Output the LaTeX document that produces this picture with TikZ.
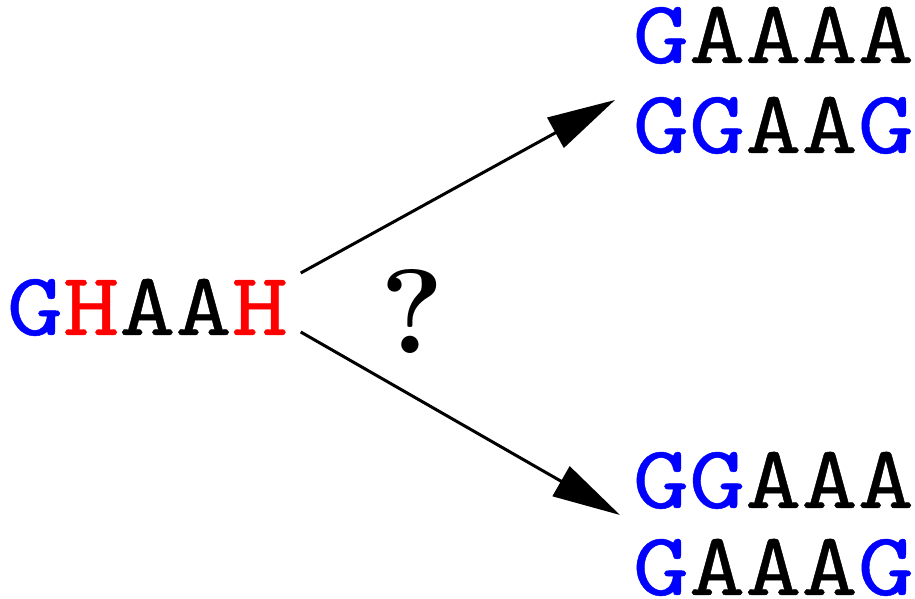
\documentclass[tikz,border=0pt]{standalone}
\usepackage{fontspec}
\usepackage{xcolor}
\usetikzlibrary{arrows.meta,positioning}
\newfontfamily\seqfont{lmmono10-regular}[Extension=.otf,FakeStretch=1.19,FakeBold=0.5]

\begin{document}
\begin{tikzpicture}[x=0.25pt,y=-0.25pt,>={Triangle[length=17pt,width=8.5pt]},
  seq/.style={inner sep=0pt,anchor=base west,font=\seqfont\fontsize{22.5}{26}\selectfont},
  arr/.style={->,line width=0.75pt}]
  \useasboundingbox (0,0) rectangle (915,599);
  % start sequence
  \node[seq] (src) at (6,335) {\textcolor{blue}{G}\textcolor{red}{H}AA\textcolor{red}{H}};
  % possible results
  \node[seq] (upA) at (632,63) {\textcolor{blue}{G}AAAA};
  \node[seq] (upB) at (632,153) {\textcolor{blue}{GG}AA\textcolor{blue}{G}};
  \node[seq] (loA) at (632,508) {\textcolor{blue}{GG}AAA};
  \node[seq] (loB) at (632,595) {\textcolor{blue}{G}AAA\textcolor{blue}{G}};
  \node[font=\bfseries\fontsize{30}{30}\selectfont] (ask) at (412,312) {?};
  % arrows
  \draw[arr] ([shift={(12,-62)}]src.base east) -- ([shift={(-17,-53)}]upB.base west);
  \draw[arr] ([shift={(12,-3)}]src.base east) -- ([shift={(-12,7)}]loA.base west);
\end{tikzpicture}
\end{document}
